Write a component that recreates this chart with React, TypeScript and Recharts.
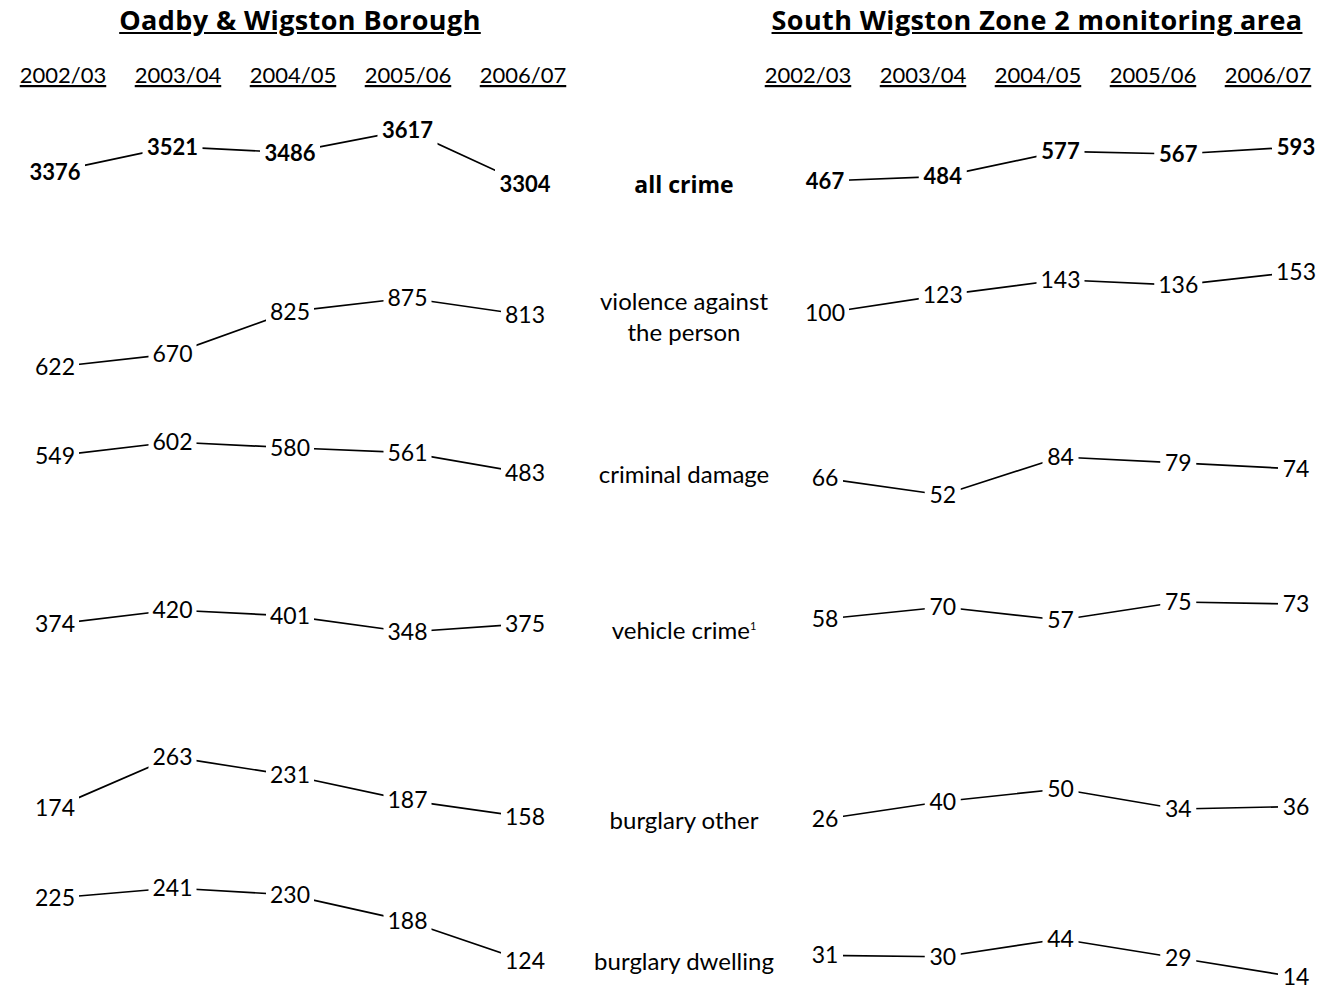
import { LineChart, Line, XAxis, YAxis, LabelList } from "recharts";

const YEARS = ["2002/03", "2003/04", "2004/05", "2005/06", "2006/07"];
const CRIME_TYPES = [
  "all crime",
  "violence against the person",
  "criminal damage",
  "vehicle crime",
  "burglary other",
  "burglary dwelling",
];

// Oadby & Wigston Borough
const BOROUGH_ALL = [3376, 3521, 3486, 3617, 3304];
const BOROUGH_VIOLENCE = [622, 670, 825, 875, 813];
const BOROUGH_DAMAGE = [549, 602, 580, 561, 483];
const BOROUGH_VEHICLE = [374, 420, 401, 348, 375];
const BOROUGH_BURG_OTHER = [174, 263, 231, 187, 158];
const BOROUGH_BURG_DWELLING = [225, 241, 230, 188, 124];

// South Wigston Zone 2
const ZONE_ALL = [467, 484, 577, 567, 593];
const ZONE_VIOLENCE = [100, 123, 143, 136, 153];
const ZONE_DAMAGE = [66, 52, 84, 79, 74];
const ZONE_VEHICLE = [58, 70, 57, 75, 73];
const ZONE_BURG_OTHER = [26, 40, 50, 34, 36];
const ZONE_BURG_DWELLING = [31, 30, 44, 29, 14];

// layout: pixel row of the max / min value in each band
const BOROUGH_BANDS = [[130, 184], [298, 367], [442, 473], [610, 632], [757, 817], [888, 961]];
const ZONE_BANDS = [[147, 181], [272, 313], [457, 495], [602, 620], [789, 819], [939, 977]];
const LABEL_TOPS = [184, 316, 473, 627, 819, 960];

const FONT = "Lato, 'Open Sans', sans-serif";
const BOLD_FONT = "'Open Sans', Lato, sans-serif";
const CHART_H = 990;
const HEAD_H = 100;

const HeaderTick = (props: any) => {
  const { x, y, payload } = props;
  return (
    <text
      x={x}
      y={y}
      dy={-9}
      textAnchor="middle"
      fontSize={22}
      fontFamily={FONT}
      fill="#000"
      style={{ textDecoration: "underline" }}
    >
      {payload.value}
    </text>
  );
};

const makeLabel = (bold: boolean) => (props: any) => {
  const { x, y, value } = props;
  const s = String(value);
  const w = s.length * 12 + 12;
  return (
    <g>
      <rect x={x - w / 2} y={y - 15} width={w} height={30} fill="#fff" />
      <text
        x={x}
        y={y}
        dy={8}
        textAnchor="middle"
        fontSize={bold ? 22 : 23}
        fontWeight={bold ? 700 : 400}
        fontFamily={FONT}
        fill="#000"
      >
        {s}
      </text>
    </g>
  );
};

function Panel({
  title,
  series,
  bands,
  left,
  width,
  dataPad,
  headPad,
}: {
  title: string;
  series: number[][];
  bands: number[][];
  left: number;
  width: number;
  dataPad: { left: number; right: number };
  headPad: { left: number; right: number };
}) {
  const data = YEARS.map((year, i) => {
    const row: any = { year };
    series.forEach((s, k) => (row["r" + k] = s[i]));
    return row;
  });

  // each crime type gets its own hidden y axis so it sits in its own band
  const domains = series.map((s, k) => {
    const vmax = Math.max(...s);
    const vmin = Math.min(...s);
    const [pTop, pBot] = bands[k];
    const scale = (pBot - pTop) / (vmax - vmin);
    return [vmin - (CHART_H - pBot) / scale, vmax + (pTop - HEAD_H) / scale];
  });

  return (
    <div style={{ position: "absolute", left, top: 0, width, height: CHART_H }}>
      <div
        style={{
          position: "absolute",
          top: 2,
          left: 0,
          width,
          textAlign: "center",
          fontFamily: BOLD_FONT,
          fontWeight: 700,
          fontSize: 27,
          lineHeight: "36px",
          letterSpacing: 0.4,
          textDecoration: "underline",
        }}
      >
        {title}
      </div>
      <LineChart
        width={width}
        height={CHART_H}
        data={data}
        margin={{ top: 0, right: 0, bottom: 0, left: 0 }}
      >
        <XAxis
          xAxisId="head"
          dataKey="year"
          orientation="top"
          height={HEAD_H}
          axisLine={false}
          tickLine={false}
          padding={headPad}
          tick={<HeaderTick />}
          interval={0}
        />
        <XAxis xAxisId="data" dataKey="year" hide height={0} padding={dataPad} />
        {series.map((_, k) => (
          <YAxis
            key={k}
            yAxisId={"y" + k}
            hide
            width={0}
            type="number"
            domain={domains[k]}
            allowDataOverflow
          />
        ))}
        {series.map((_, k) => (
          <Line
            key={k}
            xAxisId="data"
            yAxisId={"y" + k}
            dataKey={"r" + k}
            name={CRIME_TYPES[k]}
            stroke="#000"
            strokeWidth={1.7}
            dot={false}
            activeDot={false}
            isAnimationActive={false}
          >
            <LabelList dataKey={"r" + k} content={makeLabel(k === 0)} />
          </Line>
        ))}
      </LineChart>
    </div>
  );
}

export default function App() {
  return (
    <div
      style={{
        position: "absolute",
        left: 0,
        top: 0,
        width: 1334,
        height: 990,
        background: "#fff",
        fontFamily: FONT,
        overflow: "hidden",
      }}
    >
      <Panel
        title="Oadby & Wigston Borough"
        series={[
          BOROUGH_ALL,
          BOROUGH_VIOLENCE,
          BOROUGH_DAMAGE,
          BOROUGH_VEHICLE,
          BOROUGH_BURG_OTHER,
          BOROUGH_BURG_DWELLING,
        ]}
        bands={BOROUGH_BANDS}
        left={0}
        width={600}
        dataPad={{ left: 55, right: 75 }}
        headPad={{ left: 63, right: 77 }}
      />
      <Panel
        title="South Wigston Zone 2 monitoring area"
        series={[ZONE_ALL, ZONE_VIOLENCE, ZONE_DAMAGE, ZONE_VEHICLE, ZONE_BURG_OTHER, ZONE_BURG_DWELLING]}
        bands={ZONE_BANDS}
        left={740}
        width={594}
        dataPad={{ left: 85, right: 38 }}
        headPad={{ left: 68, right: 66 }}
      />
      {CRIME_TYPES.map((name, k) => (
        <div
          key={k}
          style={{
            position: "absolute",
            left: 584,
            width: 200,
            top: LABEL_TOPS[k],
            transform: "translateY(-50%)",
            textAlign: "center",
            fontSize: k === 0 ? 23 : 24,
            lineHeight: "31px",
            fontFamily: k === 0 ? BOLD_FONT : FONT,
            fontWeight: k === 0 ? 700 : 400,
          }}
        >
          {k === 1 ? (
            <>
              violence against
              <br />
              the person
            </>
          ) : (
            name
          )}
          {k === 3 && <sup style={{ fontSize: 11 }}>1</sup>}
        </div>
      ))}
    </div>
  );
}
